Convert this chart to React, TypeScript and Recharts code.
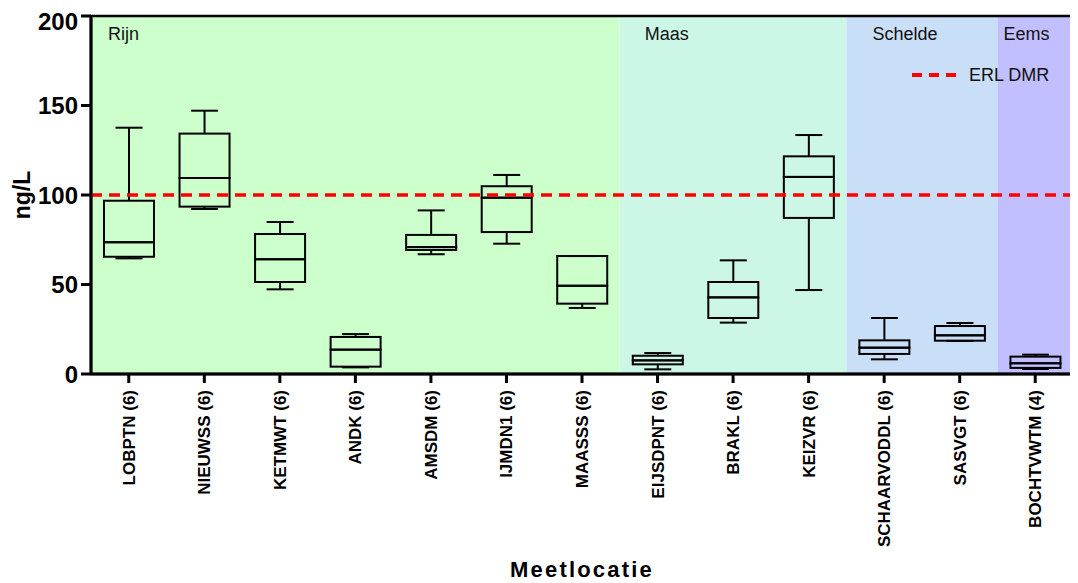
import React from 'react';
import {
  ComposedChart,
  Bar,
  XAxis,
  YAxis,
  ReferenceArea,
  ReferenceLine,
  Legend,
  Label,
} from 'recharts';

// Measurement locations (number of samples in brackets)
const LOCATIONS = [
  'LOBPTN (6)',
  'NIEUWSS (6)',
  'KETMWT (6)',
  'ANDK (6)',
  'AMSDM (6)',
  'IJMDN1 (6)',
  'MAASSS (6)',
  'EIJSDPNT (6)',
  'BRAKL (6)',
  'KEIZVR (6)',
  'SCHAARVODDL (6)',
  'SASVGT (6)',
  'BOCHTVWTM (4)',
];

// Box plot statistics per location, ng/L
const MIN_VALUES = [64.6, 92.2, 47.3, 3.7, 66.9, 72.8, 36.9, 2.6, 28.7, 46.9, 8.2, 18.5, 2.8];
const Q1_VALUES = [65.5, 93.5, 51.4, 4.1, 69.3, 79.3, 39.3, 5.4, 31.3, 87.2, 11.2, 18.6, 3.4];
const MEDIAN_VALUES = [73.6, 109.5, 64.1, 13.6, 70.9, 98.5, 49.3, 7.6, 42.8, 110.1, 14.7, 21.6, 6.0];
const Q3_VALUES = [96.8, 134.3, 78.2, 20.7, 77.7, 104.9, 65.9, 10.2, 51.4, 121.6, 18.8, 26.8, 9.7];
const MAX_VALUES = [137.6, 147.1, 84.9, 22.3, 91.4, 111.2, 65.9, 11.7, 63.5, 133.5, 31.3, 28.5, 10.8];

// River basins and the locations they span
const REGION_NAMES = ['Rijn', 'Maas', 'Schelde', 'Eems'];
const REGION_FIRST = ['LOBPTN (6)', 'EIJSDPNT (6)', 'SCHAARVODDL (6)', 'BOCHTVWTM (4)'];
const REGION_LAST = ['MAASSS (6)', 'KEIZVR (6)', 'SASVGT (6)', 'BOCHTVWTM (4)'];

// Y axis
const Y_DOMAIN = [0, 200];
const Y_TICKS = [0, 50, 100, 150, 200];
const THRESHOLD = 100;
const THRESHOLD_NAME = 'ERL DMR';
const Y_TITLE = 'ng/L';
const X_TITLE = 'Meetlocatie';

// Styling
const REGION_COLORS = ['#CCFFCC', '#CCF7E6', '#C9DEF7', '#C1BFFF'];
const REGION_LABEL_DX = [17, 25, 26, 6];
const FONT = '"Liberation Sans", Arial, Helvetica, sans-serif';
const BOX_STROKE = '#000';
const CAP_WIDTH = 27;

// Stacked segments: invisible base, lower whisker, lower box half, upper box half, upper whisker
const data = LOCATIONS.map((name, i) => ({
  name,
  base: MIN_VALUES[i],
  lowWhisker: Q1_VALUES[i] - MIN_VALUES[i],
  boxLow: MEDIAN_VALUES[i] - Q1_VALUES[i],
  boxHigh: Q3_VALUES[i] - MEDIAN_VALUES[i],
  highWhisker: MAX_VALUES[i] - Q3_VALUES[i],
}));

const EmptyShape = () => <g />;

const LowerWhisker = (p: any) => {
  const cx = p.x + p.width / 2;
  const bottom = p.y + p.height;
  return (
    <g>
      <line x1={cx} y1={p.y} x2={cx} y2={bottom} stroke={BOX_STROKE} strokeWidth={2} />
      <line x1={cx - CAP_WIDTH / 2} y1={bottom} x2={cx + CAP_WIDTH / 2} y2={bottom} stroke={BOX_STROKE} strokeWidth={2} />
    </g>
  );
};

const UpperWhisker = (p: any) => {
  const cx = p.x + p.width / 2;
  const bottom = p.y + p.height;
  return (
    <g>
      <line x1={cx} y1={p.y} x2={cx} y2={bottom} stroke={BOX_STROKE} strokeWidth={2} />
      <line x1={cx - CAP_WIDTH / 2} y1={p.y} x2={cx + CAP_WIDTH / 2} y2={p.y} stroke={BOX_STROKE} strokeWidth={2} />
    </g>
  );
};

const BoxHalf = (p: any) => (
  <rect x={p.x} y={p.y} width={p.width} height={Math.max(p.height, 0)} fill="none" stroke={BOX_STROKE} strokeWidth={2} />
);

const LocationTick = (p: any) => (
  <g transform={`translate(${p.x},${p.y}) rotate(-90)`}>
    <text x={0} y={0} dy={6} textAnchor="end" fontFamily={FONT} fontWeight="bold" fontSize={17} fill="#000">
      {p.payload.value}
    </text>
  </g>
);

const regionLabel = (text: string, dx: number) => (props: any) => {
  const vb = props.viewBox;
  return (
    <text x={vb.x + dx} y={vb.y + 24} fontFamily={FONT} fontSize={18} fill="#111">
      {text}
    </text>
  );
};

const ThresholdLegend = () => (
  <div style={{ display: 'flex', alignItems: 'center', fontFamily: FONT }}>
    <svg width={46} height={8} style={{ display: 'block' }}>
      <line x1={0} y1={4} x2={46} y2={4} stroke="#FF0000" strokeWidth={4} strokeDasharray="10 7" />
    </svg>
    <span style={{ marginLeft: 11, fontSize: 18, color: '#111', lineHeight: '20px' }}>{THRESHOLD_NAME}</span>
  </div>
);

export default function App() {
  return (
    <ComposedChart
      width={1070}
      height={575}
      data={data}
      margin={{ top: 8, right: 5, bottom: 0, left: 13 }}
    >
      {REGION_NAMES.map((name, i) => (
        <ReferenceArea
          key={name}
          x1={REGION_FIRST[i]}
          x2={REGION_LAST[i]}
          y1={Y_DOMAIN[0]}
          y2={Y_DOMAIN[1]}
          fill={REGION_COLORS[i]}
          fillOpacity={1}
          stroke="none"
          label={regionLabel(name, REGION_LABEL_DX[i])}
        />
      ))}
      {/* plot frame */}
      <ReferenceArea
        x1={LOCATIONS[0]}
        x2={LOCATIONS[LOCATIONS.length - 1]}
        y1={Y_DOMAIN[0]}
        y2={Y_DOMAIN[1]}
        fill="none"
        stroke="#000"
        strokeWidth={2.5}
      />
      <XAxis
        dataKey="name"
        type="category"
        height={209}
        interval={0}
        tick={<LocationTick />}
        tickSize={9}
        tickMargin={7}
        tickLine={{ stroke: '#000', strokeWidth: 3 }}
        axisLine={{ stroke: '#000', strokeWidth: 3 }}
      >
        <Label
          content={(props: any) => {
            const vb = props.viewBox;
            return (
              <text
                x={vb.x + vb.width / 2}
                y={vb.y + 203}
                textAnchor="middle"
                fontFamily={FONT}
                fontWeight="bold"
                fontSize={22}
                letterSpacing={2.2}
                fill="#000"
              >
                {X_TITLE}
              </text>
            );
          }}
        />
      </XAxis>
      <YAxis
        type="number"
        domain={Y_DOMAIN}
        ticks={Y_TICKS}
        width={70}
        tickSize={10}
        tickMargin={3}
        tick={{ fill: '#000', fontFamily: FONT, fontWeight: 'bold', fontSize: 24 }}
        tickLine={{ stroke: '#000', strokeWidth: 3 }}
        axisLine={{ stroke: '#000', strokeWidth: 3 }}
      >
        <Label
          content={(props: any) => {
            const vb = props.viewBox;
            const cx = vb.x + 9;
            const cy = vb.y + vb.height / 2;
            return (
              <text
                x={cx}
                y={cy}
                transform={`rotate(-90 ${cx} ${cy})`}
                textAnchor="middle"
                fontFamily={FONT}
                fontWeight="bold"
                fontSize={23}
                fill="#000"
              >
                {Y_TITLE}
              </text>
            );
          }}
        />
      </YAxis>
      <Bar dataKey="base" stackId="box" barSize={50} shape={EmptyShape} isAnimationActive={false} legendType="none" />
      <Bar dataKey="lowWhisker" stackId="box" barSize={50} shape={LowerWhisker} isAnimationActive={false} legendType="none" />
      <Bar dataKey="boxLow" stackId="box" barSize={50} shape={BoxHalf} isAnimationActive={false} legendType="none" />
      <Bar dataKey="boxHigh" stackId="box" barSize={50} shape={BoxHalf} isAnimationActive={false} legendType="none" />
      <Bar dataKey="highWhisker" stackId="box" barSize={50} shape={UpperWhisker} isAnimationActive={false} legendType="none" />
      <ReferenceLine y={THRESHOLD} stroke="#FF0000" strokeWidth={3.5} strokeDasharray="11 7" />
      <Legend
        layout="horizontal"
        verticalAlign="middle"
        align="center"
        content={<ThresholdLegend />}
        wrapperStyle={{ left: 904, top: 57, width: 'auto', height: 'auto' }}
      />
    </ComposedChart>
  );
}
